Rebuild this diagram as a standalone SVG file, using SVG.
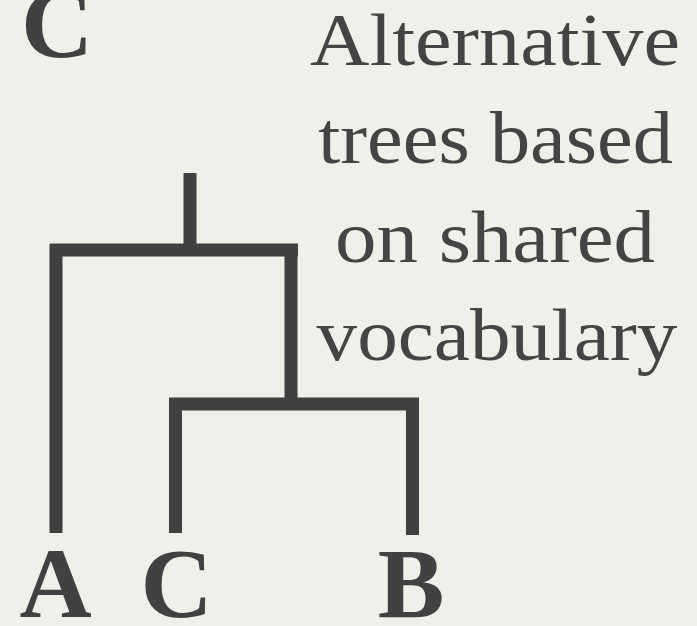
<svg xmlns="http://www.w3.org/2000/svg" width="697" height="626" viewBox="0 0 697 626">
<style>
.bg{fill:#f1efea}
.edge{stroke:#404040;stroke-width:13;fill:none;stroke-linecap:butt}
.leaf{font-family:"Liberation Serif",serif;font-weight:bold;font-size:100px;fill:#414141;text-anchor:middle}
.cap{font-family:"Liberation Serif",serif;font-size:75px;fill:#444;text-anchor:middle}
</style>
<rect class="bg" x="0" y="0" width="697" height="626"/>
<g id="corner-label"><text class="leaf" x="57" y="57">C</text></g>
<g id="caption">
<text class="cap" x="495" y="65" textLength="370" lengthAdjust="spacingAndGlyphs">Alternative</text>
<text class="cap" x="495.5" y="163" textLength="355" lengthAdjust="spacingAndGlyphs">trees based</text>
<text class="cap" x="495" y="262" textLength="320" lengthAdjust="spacingAndGlyphs">on shared</text>
<text class="cap" x="497" y="360" textLength="361" lengthAdjust="spacingAndGlyphs">vocabulary</text>
</g>
<g id="connectors">
<path class="edge" d="M190 173V250"/>
<path class="edge" d="M50 250H298"/>
<path class="edge" d="M56 244V533"/>
<path class="edge" d="M291 244V404"/>
<path class="edge" d="M169 404H419"/>
<path class="edge" d="M175.5 398V533"/>
<path class="edge" d="M412.5 398V535"/>
</g>
<g id="leaf-A"><text class="leaf" x="55.5" y="617">A</text></g>
<g id="leaf-C"><text class="leaf" x="176.5" y="617">C</text></g>
<g id="leaf-B"><text class="leaf" x="411" y="617">B</text></g>
</svg>
